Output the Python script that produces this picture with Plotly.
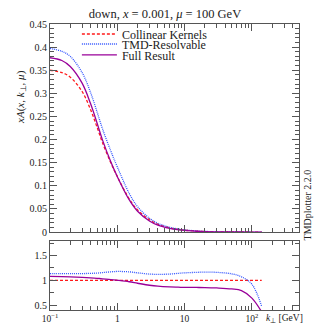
import plotly.graph_objects as go
from plotly.subplots import make_subplots

# k_perp grid [GeV]
kt = [0.1, 0.15, 0.2, 0.3, 0.4, 0.5, 0.6, 0.8, 1.0, 1.5, 2, 3, 4, 6, 8, 10,
      15, 20, 30, 50, 70, 100, 140]

# xA(x, kT, mu)
collinear = [0.350, 0.345, 0.335, 0.304, 0.265, 0.227, 0.194, 0.150, 0.120,
             0.072, 0.048, 0.0267, 0.017, 0.0092, 0.0058, 0.0041, 0.0021,
             0.0012, 0.0006, 0.00024, 0.00013, 0.00008, 0.00005]
tmd_resolvable = [0.397, 0.391, 0.380, 0.345, 0.302, 0.260, 0.224, 0.1755,
                  0.141, 0.084, 0.055, 0.030, 0.019, 0.0104, 0.0066, 0.0047,
                  0.0024, 0.0014, 0.0007, 0.00027, 0.00014, 0.00007, 0.00002]
full_result = [0.377, 0.371, 0.358, 0.322, 0.278, 0.236, 0.200, 0.152, 0.120,
               0.070, 0.045, 0.024, 0.015, 0.008, 0.005, 0.0035, 0.0018,
               0.001, 0.0005, 0.0002, 0.0001, 0.00005, 0.00002]

# ratio panel (relative to collinear kernels)
ratio_collinear = [1.0] * len(kt)
ratio_tmd = [1.133, 1.133, 1.133, 1.135, 1.14, 1.145, 1.155, 1.17, 1.178,
             1.17, 1.15, 1.125, 1.12, 1.125, 1.14, 1.15, 1.16, 1.165, 1.16,
             1.13, 1.07, 0.92, 0.47]
ratio_full = [1.077, 1.075, 1.07, 1.06, 1.05, 1.04, 1.03, 1.015, 1.0, 0.97,
              0.94, 0.90, 0.88, 0.865, 0.86, 0.857, 0.855, 0.853, 0.845,
              0.825, 0.79, 0.64, 0.36]

red = '#ff1a1a'
blue = '#3355ff'
purple = '#990099'
serif = 'Liberation Serif'
ink = '#222222'

fig = make_subplots(rows=2, cols=1, shared_xaxes=True,
                    row_heights=[0.75, 0.25], vertical_spacing=0.03)

# one legend per entry so the rows sit as tight as in the reference
fig.add_trace(go.Scatter(x=kt, y=collinear, name='Collinear Kernels', mode='lines',
                         legend='legend',
                         line=dict(color=red, width=1.3, dash='3px,2px', shape='spline')),
              row=1, col=1)
fig.add_trace(go.Scatter(x=kt, y=tmd_resolvable, name='TMD-Resolvable', mode='lines',
                         legend='legend2',
                         line=dict(color=blue, width=1.3, dash='1px,1px', shape='spline')),
              row=1, col=1)
fig.add_trace(go.Scatter(x=kt, y=full_result, name='Full Result', mode='lines',
                         legend='legend3',
                         line=dict(color=purple, width=1.3, shape='spline')),
              row=1, col=1)

fig.add_trace(go.Scatter(x=kt, y=ratio_collinear, showlegend=False, mode='lines',
                         line=dict(color=red, width=1.3, dash='3px,2px')),
              row=2, col=1)
fig.add_trace(go.Scatter(x=kt, y=ratio_tmd, showlegend=False, mode='lines',
                         line=dict(color=blue, width=1.3, dash='1px,1px', shape='spline')),
              row=2, col=1)
fig.add_trace(go.Scatter(x=kt, y=ratio_full, showlegend=False, mode='lines',
                         line=dict(color=purple, width=1.3, shape='spline')),
              row=2, col=1)

minor_x = [m * d for d in [0.1, 1, 10, 100] for m in range(2, 10)]
axis_common = dict(showline=True, linecolor='#555555', linewidth=1, mirror='allticks',
                   ticks='inside', ticklen=7, tickcolor='#555555', showgrid=False,
                   zeroline=False, automargin=False,
                   tickfont=dict(family=serif, size=10, color=ink))

fig.update_xaxes(type='log', range=[-1, 2.7], tickvals=[0.1, 1, 10, 100],
                 ticktext=['10<sup>−1</sup>', '1', '10', '10<sup>2</sup>'],
                 minor=dict(tickvals=minor_x, ticks='inside', ticklen=4, tickcolor='#555555'),
                 **axis_common)
fig.update_xaxes(showticklabels=False, row=1, col=1)
fig.update_xaxes(tickfont=dict(family=serif, size=9.5, color=ink), row=2, col=1)

fig.update_yaxes(range=[0, 0.45], tickvals=[i * 0.05 for i in range(10)],
                 ticktext=['0', '0.05', '0.1', '0.15', '0.2', '0.25', '0.3', '0.35', '0.4', '0.45'],
                 minor=dict(dtick=0.01, ticks='inside', ticklen=4, tickcolor='#555555'),
                 row=1, col=1, **axis_common)
fig.update_yaxes(range=[0.4, 1.8], tickvals=[0.5, 1, 1.5], ticktext=['0.5', '1', '1.5'],
                 minor=dict(dtick=0.25, ticks='inside', ticklen=4, tickcolor='#555555'),
                 row=2, col=1, **axis_common)

leg = dict(x=0.108, xanchor='left', yanchor='middle', bgcolor='rgba(0,0,0,0)',
           itemwidth=35, font=dict(family=serif, size=12, color=ink))

# the page body adds an 8px offset, so the figure is 8px smaller and
# margins are shifted up/left to keep the plot where the reference has it
fig.update_layout(
    width=325, height=318,
    margin=dict(l=42, r=34, t=16, b=16, autoexpand=False),
    plot_bgcolor='white', paper_bgcolor='white',
    font=dict(family=serif, size=11, color=ink),
    title=dict(text='down, <i>x</i> = 0.001, <i>μ</i> = 100 GeV', x=0.462, xref='paper',
               xanchor='center', y=0.981, yanchor='middle',
               font=dict(family=serif, size=12.5, color=ink)),
    legend=dict(y=0.965, **leg),
    legend2=dict(y=0.930, **leg),
    legend3=dict(y=0.892, **leg),
    annotations=[
        dict(text='<i>xA</i>(<i>x</i>, <i>k</i><sub>⊥</sub>, <i>μ</i>)', textangle=-90,
             xref='paper', yref='paper', x=-0.153, y=0.846, showarrow=False,
             font=dict(family=serif, size=11, color=ink)),
        dict(text='TMDplotter 2.2.0', textangle=-90, xref='paper', yref='paper',
             x=1.064, y=0.367, showarrow=False,
             font=dict(family=serif, size=10, color=ink)),
        dict(text='<i>k</i><sub>⊥</sub> [GeV]', xref='paper', yref='paper',
             x=0.858, y=-0.028, xanchor='left', yanchor='middle', showarrow=False,
             font=dict(family=serif, size=9.5, color=ink)),
    ],
)

fig.write_html("out.html")
